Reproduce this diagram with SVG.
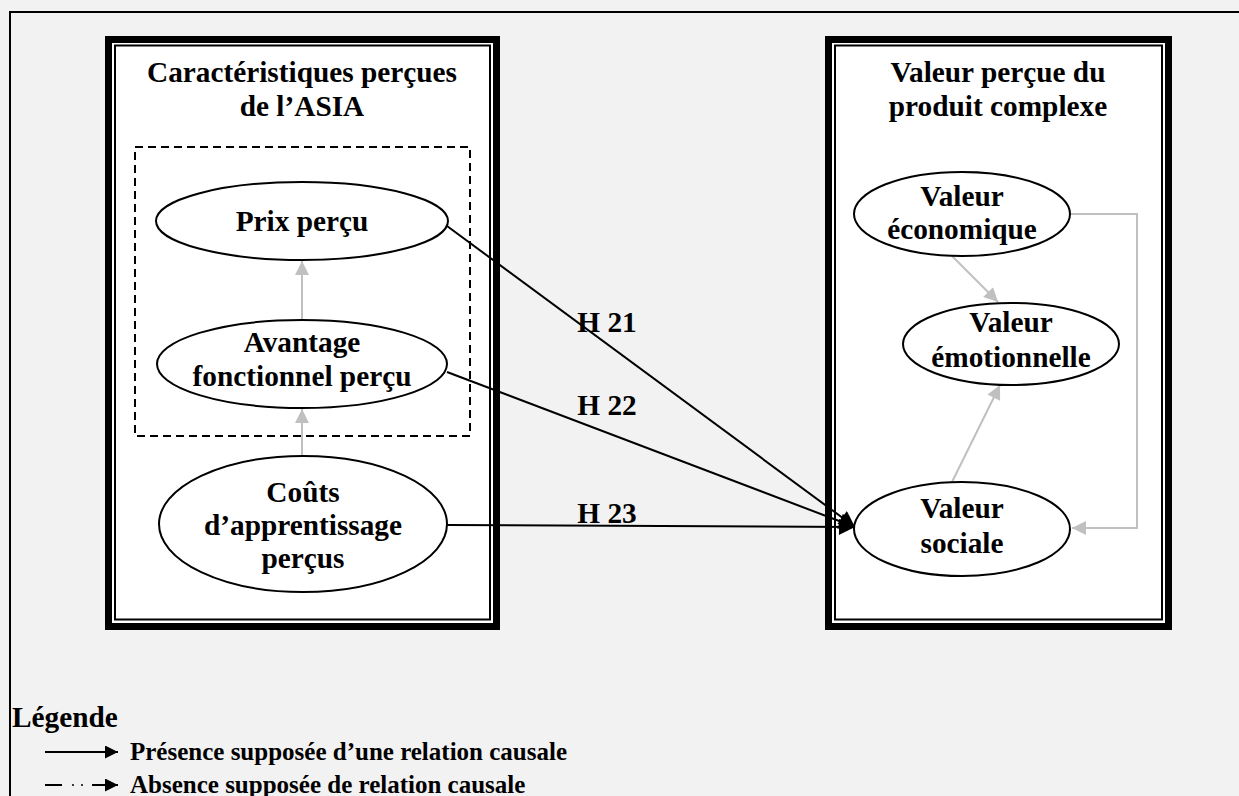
<svg xmlns="http://www.w3.org/2000/svg" width="1239" height="796" viewBox="0 0 1239 796">
<defs>
<style>
text{font-family:"Liberation Serif","Times New Roman",serif;font-weight:bold;fill:#000;text-anchor:middle}
.t{font-size:29.3px}
.lg{font-size:25px;text-anchor:start}
.ell{fill:#fff;stroke:#000;stroke-width:2}
.thick{fill:#fff;stroke:#000;stroke-width:7}
.thin{fill:none;stroke:#000;stroke-width:2}
.blk{fill:none;stroke:#000;stroke-width:2}
.gry{fill:none;stroke:#c0c0c0;stroke-width:2}
</style>
<marker id="ab" viewBox="0 0 10 10" refX="10" refY="5" markerWidth="22" markerHeight="16" markerUnits="userSpaceOnUse" orient="auto"><path d="M0,0 L10,5 L0,10 z" fill="#000"/></marker>
<marker id="ag" viewBox="0 0 10 10" refX="10" refY="5" markerWidth="16" markerHeight="14" markerUnits="userSpaceOnUse" orient="auto"><path d="M0,0 L10,5 L0,10 z" fill="#c0c0c0"/></marker>
<marker id="al" viewBox="0 0 10 10" refX="10" refY="5" markerWidth="15" markerHeight="13" markerUnits="userSpaceOnUse" orient="auto"><path d="M0,0 L10,5 L0,10 z" fill="#000"/></marker>
</defs>
<rect x="0" y="0" width="1239" height="796" fill="#f2f2f2"/>
<path d="M10,800 V12 H1245" fill="none" stroke="#000" stroke-width="2"/>

<g id="box-left">
<rect class="thick" x="108.5" y="39.5" width="388" height="587"/>
<rect class="thin" x="115" y="45.5" width="375" height="574"/>
<text class="t" x="302" y="82">Caractéristiques perçues</text>
<text class="t" x="302" y="116">de l’ASIA</text>
<rect x="135" y="147" width="335" height="289" fill="none" stroke="#000" stroke-width="2" stroke-dasharray="8,5"/>
</g>
<g id="box-right">
<rect class="thick" x="828.5" y="39.5" width="340" height="587"/>
<rect class="thin" x="835" y="45.5" width="327" height="574"/>
<text class="t" x="998" y="82">Valeur perçue du</text>
<text class="t" x="998" y="116">produit complexe</text>
</g>

<g id="connectors">
<line class="gry" x1="302" y1="320" x2="302" y2="261" marker-end="url(#ag)"/>
<line class="gry" x1="302" y1="456" x2="302" y2="409" marker-end="url(#ag)"/>
<line class="gry" x1="952" y1="256" x2="998" y2="302" marker-end="url(#ag)"/>
<line class="gry" x1="952" y1="482" x2="1000" y2="385" marker-end="url(#ag)"/>
<polyline class="gry" points="1070,214 1137,214 1137,528 1072,528" marker-end="url(#ag)"/>
<line class="blk" x1="447" y1="226" x2="855" y2="527" marker-end="url(#ab)"/>
<line class="blk" x1="447" y1="372" x2="855" y2="527" marker-end="url(#ab)"/>
<line class="blk" x1="447" y1="525" x2="855" y2="527" marker-end="url(#ab)"/>
<text class="t" x="607" y="332">H 21</text>
<text class="t" x="607" y="415">H 22</text>
<text class="t" x="607" y="523">H 23</text>
</g>

<g id="n-prix">
<ellipse class="ell" cx="302" cy="221" rx="146" ry="39"/>
<text class="t" x="302" y="231">Prix perçu</text>
</g>
<g id="n-avantage">
<ellipse class="ell" cx="302" cy="364" rx="145" ry="44"/>
<text class="t" x="302" y="352">Avantage</text>
<text class="t" x="302" y="386">fonctionnel perçu</text>
</g>
<g id="n-couts">
<ellipse class="ell" cx="303" cy="524" rx="144" ry="68"/>
<text class="t" x="303" y="502">Coûts</text>
<text class="t" x="303" y="535">d’apprentissage</text>
<text class="t" x="303" y="568">perçus</text>
</g>
<g id="n-eco">
<ellipse class="ell" cx="962" cy="214" rx="108" ry="42"/>
<text class="t" x="962" y="206">Valeur</text>
<text class="t" x="962" y="239">économique</text>
</g>
<g id="n-emo">
<ellipse class="ell" cx="1011" cy="344" rx="108" ry="41"/>
<text class="t" x="1011" y="332">Valeur</text>
<text class="t" x="1011" y="367">émotionnelle</text>
</g>
<g id="n-soc">
<ellipse class="ell" cx="962" cy="529" rx="108" ry="47"/>
<text class="t" x="962" y="518">Valeur</text>
<text class="t" x="962" y="553">sociale</text>
</g>

<g id="legend">
<text class="t" x="12" y="727" style="text-anchor:start">Légende</text>
<line x1="45" y1="752" x2="118" y2="752" stroke="#000" stroke-width="2" marker-end="url(#al)"/>
<text class="lg" x="130" y="760">Présence supposée d’une relation causale</text>
<line x1="45" y1="785" x2="62" y2="785" stroke="#000" stroke-width="2"/>
<line x1="72" y1="785" x2="74" y2="785" stroke="#000" stroke-width="1.5"/>
<line x1="81" y1="785" x2="83" y2="785" stroke="#000" stroke-width="1.5"/>
<line x1="92" y1="785" x2="118" y2="785" stroke="#000" stroke-width="2" marker-end="url(#al)"/>
<text class="lg" x="130" y="793">Absence supposée de relation causale</text>
</g>
</svg>
